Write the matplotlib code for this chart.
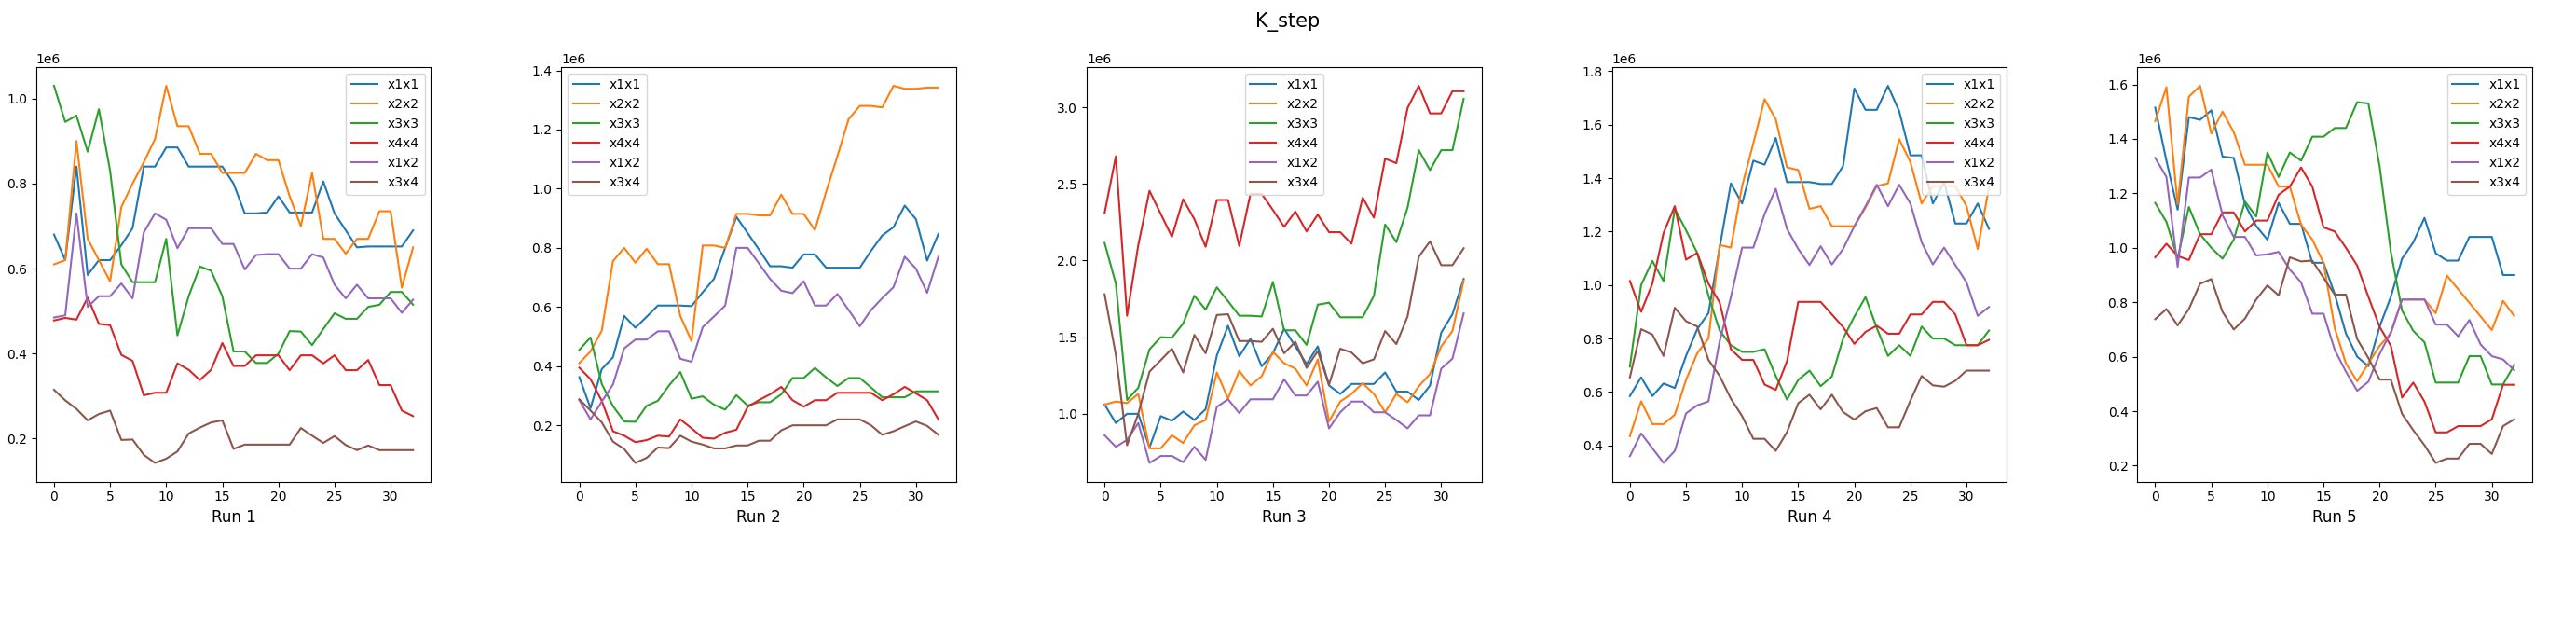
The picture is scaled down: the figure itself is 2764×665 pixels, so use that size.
import matplotlib
matplotlib.use("Agg")
import matplotlib.pyplot as plt
import numpy as np

labels = ["x1x1", "x2x2", "x3x3", "x4x4", "x1x2", "x3x4"]
runs = ["Run 1", "Run 2", "Run 3", "Run 4", "Run 5"]

run1 = [
 [0.68,0.62,0.84,0.585,0.62,0.62,0.655,0.695,0.84,0.84,0.885,0.885,0.84,0.84,0.84,0.84,0.80,0.73,0.73,0.732,0.77,0.732,0.732,0.732,0.805,0.73,0.69,0.65,0.652,0.652,0.652,0.652,0.69],
 [0.61,0.62,0.90,0.67,0.62,0.57,0.745,0.80,0.85,0.905,1.03,0.935,0.935,0.87,0.87,0.825,0.825,0.825,0.87,0.855,0.855,0.77,0.70,0.825,0.67,0.67,0.635,0.67,0.67,0.735,0.735,0.555,0.65],
 [1.03,0.945,0.96,0.875,0.975,0.83,0.61,0.568,0.568,0.568,0.67,0.443,0.535,0.605,0.595,0.535,0.405,0.405,0.378,0.378,0.40,0.453,0.452,0.42,0.458,0.495,0.482,0.482,0.51,0.515,0.545,0.545,0.515],
 [0.478,0.484,0.48,0.532,0.47,0.467,0.397,0.383,0.302,0.308,0.308,0.377,0.362,0.338,0.362,0.425,0.371,0.371,0.396,0.396,0.396,0.361,0.396,0.396,0.377,0.396,0.361,0.361,0.385,0.326,0.326,0.266,0.253],
 [0.485,0.49,0.73,0.51,0.535,0.535,0.565,0.53,0.685,0.73,0.715,0.648,0.695,0.695,0.695,0.658,0.658,0.598,0.632,0.634,0.634,0.60,0.60,0.634,0.626,0.562,0.53,0.562,0.53,0.53,0.53,0.496,0.527],
 [0.315,0.29,0.27,0.243,0.258,0.266,0.197,0.198,0.162,0.143,0.153,0.17,0.212,0.226,0.238,0.243,0.176,0.186,0.186,0.186,0.186,0.186,0.225,0.207,0.19,0.206,0.185,0.173,0.184,0.173,0.173,0.173,0.173],
]
run2 = [
 [0.363,0.258,0.39,0.43,0.57,0.53,0.567,0.605,0.605,0.605,0.603,0.65,0.695,0.80,0.905,0.85,0.795,0.738,0.738,0.733,0.778,0.778,0.733,0.733,0.733,0.733,0.79,0.842,0.87,0.943,0.897,0.757,0.847],
 [0.41,0.45,0.52,0.755,0.80,0.75,0.797,0.745,0.745,0.57,0.485,0.808,0.808,0.80,0.915,0.915,0.91,0.91,0.98,0.915,0.915,0.86,0.99,1.11,1.235,1.28,1.28,1.275,1.348,1.338,1.338,1.342,1.342],
 [0.455,0.497,0.34,0.265,0.213,0.212,0.266,0.283,0.335,0.38,0.29,0.298,0.27,0.253,0.302,0.267,0.278,0.278,0.305,0.36,0.36,0.394,0.362,0.333,0.36,0.36,0.328,0.295,0.295,0.295,0.315,0.315,0.315],
 [0.395,0.356,0.283,0.18,0.165,0.143,0.15,0.165,0.162,0.22,0.19,0.158,0.155,0.175,0.185,0.262,0.285,0.305,0.33,0.285,0.263,0.285,0.285,0.31,0.31,0.31,0.31,0.285,0.305,0.33,0.308,0.285,0.22],
 [0.285,0.22,0.28,0.338,0.46,0.49,0.49,0.518,0.518,0.425,0.415,0.532,0.568,0.605,0.80,0.80,0.748,0.695,0.655,0.647,0.687,0.605,0.605,0.644,0.59,0.535,0.59,0.63,0.667,0.77,0.73,0.648,0.77],
 [0.288,0.25,0.21,0.145,0.12,0.073,0.09,0.125,0.123,0.165,0.145,0.135,0.122,0.122,0.132,0.132,0.148,0.148,0.183,0.2,0.2,0.2,0.2,0.22,0.22,0.22,0.2,0.168,0.18,0.197,0.213,0.198,0.168],
]
run3 = [
 [1.06,0.94,1.0,1.0,0.78,0.985,0.955,1.015,0.96,1.03,1.38,1.575,1.375,1.49,1.31,1.395,1.555,1.44,1.325,1.44,1.185,1.13,1.195,1.195,1.195,1.27,1.145,1.145,1.09,1.185,1.53,1.65,1.88],
 [1.06,1.08,1.07,1.13,0.775,0.775,0.86,0.81,0.925,0.96,1.27,1.1,1.28,1.185,1.245,1.405,1.33,1.295,1.185,1.355,0.95,1.08,1.13,1.2,1.13,1.01,1.13,1.075,1.18,1.26,1.44,1.54,1.87],
 [2.115,1.85,1.09,1.17,1.42,1.50,1.497,1.59,1.77,1.68,1.825,1.735,1.64,1.64,1.635,1.86,1.545,1.545,1.45,1.712,1.725,1.63,1.63,1.63,1.77,2.235,2.12,2.345,2.72,2.59,2.72,2.72,3.055],
 [2.31,2.68,1.64,2.10,2.455,2.305,2.155,2.40,2.27,2.09,2.395,2.395,2.095,2.435,2.435,2.33,2.22,2.32,2.19,2.30,2.185,2.185,2.11,2.41,2.28,2.665,2.635,2.995,3.14,2.96,2.96,3.105,3.105],
 [0.86,0.785,0.83,0.94,0.68,0.725,0.725,0.685,0.785,0.70,1.045,1.095,1.005,1.095,1.095,1.095,1.225,1.12,1.12,1.21,0.905,1.01,1.08,1.08,1.01,1.01,0.96,0.905,0.99,0.99,1.295,1.36,1.655],
 [1.78,1.385,0.795,1.0,1.275,1.35,1.425,1.27,1.515,1.395,1.645,1.65,1.475,1.475,1.47,1.555,1.395,1.47,1.30,1.41,1.19,1.425,1.40,1.33,1.355,1.54,1.455,1.635,2.025,2.125,1.97,1.97,2.08],
]
run4 = [
 [0.585,0.655,0.585,0.632,0.615,0.735,0.835,0.895,1.14,1.38,1.305,1.465,1.45,1.55,1.385,1.385,1.385,1.378,1.378,1.445,1.735,1.655,1.655,1.745,1.65,1.485,1.485,1.305,1.385,1.23,1.23,1.305,1.21],
 [0.435,0.565,0.48,0.48,0.515,0.645,0.745,0.80,1.15,1.14,1.37,1.53,1.695,1.62,1.44,1.43,1.285,1.295,1.22,1.22,1.22,1.29,1.37,1.38,1.545,1.46,1.305,1.37,1.37,1.37,1.295,1.135,1.365],
 [0.695,1.0,1.09,1.015,1.285,1.205,1.12,0.96,0.83,0.775,0.75,0.75,0.76,0.66,0.572,0.645,0.68,0.622,0.658,0.80,0.882,0.955,0.84,0.735,0.775,0.735,0.845,0.80,0.80,0.775,0.775,0.775,0.83],
 [1.015,0.90,1.005,1.195,1.295,1.095,1.12,1.005,0.935,0.76,0.72,0.72,0.628,0.608,0.715,0.937,0.937,0.937,0.89,0.843,0.78,0.825,0.848,0.818,0.818,0.89,0.89,0.937,0.937,0.89,0.775,0.775,0.795],
 [0.36,0.445,0.39,0.335,0.38,0.52,0.55,0.565,0.79,0.955,1.14,1.14,1.265,1.36,1.21,1.135,1.075,1.145,1.077,1.135,1.22,1.295,1.375,1.295,1.375,1.305,1.16,1.077,1.14,1.075,1.01,0.885,0.918],
 [0.655,0.835,0.815,0.735,0.915,0.865,0.845,0.72,0.66,0.575,0.51,0.425,0.425,0.38,0.45,0.558,0.59,0.535,0.59,0.525,0.497,0.528,0.54,0.468,0.468,0.568,0.66,0.625,0.62,0.642,0.68,0.68,0.68],
]
run5 = [
 [1.515,1.32,1.14,1.48,1.47,1.505,1.335,1.33,1.16,1.08,1.03,1.165,1.088,1.088,0.945,0.945,0.83,0.685,0.60,0.565,0.71,0.82,0.96,1.02,1.11,0.98,0.953,0.953,1.04,1.04,1.04,0.9,0.9],
 [1.465,1.59,1.16,1.555,1.595,1.42,1.50,1.425,1.305,1.305,1.305,1.225,1.225,1.085,1.03,0.945,0.705,0.575,0.51,0.575,0.64,0.685,0.81,0.81,0.81,0.76,0.898,0.848,0.798,0.748,0.698,0.805,0.75],
 [1.165,1.095,0.96,1.15,1.05,1.0,0.96,1.03,1.17,1.115,1.35,1.26,1.35,1.32,1.408,1.408,1.44,1.44,1.535,1.53,1.30,0.985,0.77,0.695,0.653,0.505,0.505,0.505,0.602,0.602,0.498,0.498,0.57],
 [0.965,1.015,0.97,0.955,1.05,1.05,1.13,1.13,1.06,1.10,1.10,1.195,1.225,1.295,1.225,1.075,1.06,1.0,0.935,0.82,0.71,0.64,0.45,0.505,0.435,0.322,0.322,0.345,0.345,0.345,0.37,0.497,0.497],
 [1.33,1.26,0.93,1.258,1.258,1.287,1.12,1.04,1.04,0.972,0.976,0.985,0.92,0.873,0.758,0.758,0.625,0.545,0.475,0.508,0.61,0.69,0.81,0.81,0.81,0.718,0.718,0.675,0.735,0.645,0.602,0.59,0.55],
 [0.738,0.775,0.715,0.775,0.868,0.885,0.765,0.70,0.74,0.81,0.862,0.825,0.965,0.95,0.953,0.89,0.828,0.828,0.665,0.595,0.516,0.516,0.39,0.33,0.275,0.21,0.226,0.226,0.28,0.28,0.243,0.345,0.37],
]
all_runs = [run1, run2, run3, run4, run5]
legend_locs = ["upper right", "upper left", "upper center", "upper right", "upper right"]

fig, axes = plt.subplots(1, 5, figsize=(27.64, 6.65), dpi=100)
fig.subplots_adjust(left=0.014, right=0.983, top=0.892, bottom=0.223, wspace=0.33)
for ax, data, name, loc in zip(axes, all_runs, runs, legend_locs):
    for lab, vals in zip(labels, data):
        ax.plot(np.arange(len(vals)), np.array(vals) * 1e6, label=lab)
    ax.set_xlabel(name, fontsize=12)
    ax.legend(loc=loc)
fig.suptitle("K_step", fontsize=15)
fig.savefig("out.png", dpi=100)
